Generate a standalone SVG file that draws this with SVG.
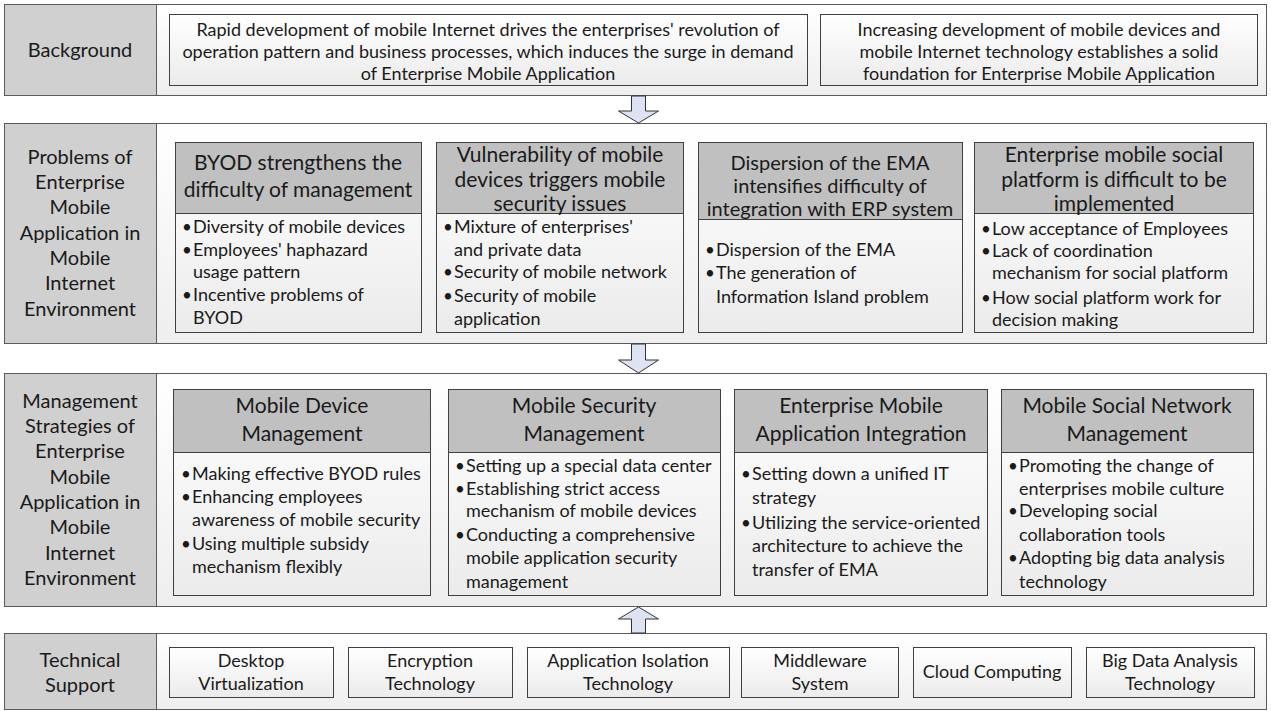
<svg xmlns="http://www.w3.org/2000/svg" width="1271" height="711" viewBox="0 0 1271 711">
  <defs>
    <linearGradient id="bandGrad" x1="0" y1="0" x2="0" y2="1">
      <stop offset="0" stop-color="#ffffff"/>
      <stop offset="1" stop-color="#eeeeee"/>
    </linearGradient>
    <linearGradient id="boxGrad" x1="0" y1="0" x2="0" y2="1">
      <stop offset="0" stop-color="#ffffff"/>
      <stop offset="1" stop-color="#ebebeb"/>
    </linearGradient>
    <style>
      .band{fill:url(#bandGrad);stroke:#5a5a5a;stroke-width:1}
      .lab{fill:#d0d0d0;stroke:#5a5a5a;stroke-width:1}
      .hdr{fill:#c0c0c0;stroke:#404040;stroke-width:1}
      .body{fill:url(#boxGrad);stroke:#404040;stroke-width:1}
      .arrow{fill:#dde3f2;stroke:#333333;stroke-width:1}
      text{font-family:Lato,"Liberation Sans",sans-serif;fill:#1a1a1a}
      .c{text-anchor:middle}
      .lbl{font-size:20px}
      .ttl{font-size:21px}
      .ttl-s{font-size:20px}
      .bl{font-size:18px}
      .dot{font-size:17px}
      .top{font-size:18px}
    </style>
  </defs>

  <!-- Background band -->
  <g id="background">
    <rect class="band" x="4.5" y="4.5" width="1262" height="91"/>
    <rect class="lab" x="4.5" y="4.5" width="152" height="91"/>
    <text class="lbl c" x="80" y="57">Background</text>
  </g>
  <g id="bg-demand">
    <rect class="body" x="169.5" y="14.5" width="638" height="71"/>
    <text class="top c" x="488" y="36">Rapid development of mobile Internet drives the enterprises' revolution of</text>
    <text class="top c" x="488" y="58">operation pattern and business processes, which induces the surge in demand</text>
    <text class="top c" x="488" y="80">of Enterprise Mobile Application</text>
  </g>
  <g id="bg-foundation">
    <rect class="body" x="820.5" y="14.5" width="437" height="71"/>
    <text class="top c" x="1039" y="36">Increasing development of mobile devices and</text>
    <text class="top c" x="1039" y="58">mobile Internet technology establishes a solid</text>
    <text class="top c" x="1039" y="80">foundation for Enterprise Mobile Application</text>
  </g>

  <!-- Problems band -->
  <g id="problems">
    <rect class="band" x="4.5" y="123.5" width="1262" height="220"/>
    <rect class="lab" x="4.5" y="123.5" width="152" height="220"/>
    <text class="lbl c" x="80" y="164">Problems of</text>
    <text class="lbl c" x="80" y="189">Enterprise</text>
    <text class="lbl c" x="80" y="214">Mobile</text>
    <text class="lbl c" x="80" y="240">Application in</text>
    <text class="lbl c" x="80" y="265">Mobile</text>
    <text class="lbl c" x="80" y="290">Internet</text>
    <text class="lbl c" x="80" y="316">Environment</text>
  </g>
  <g id="p-byod">
    <rect class="body" x="175.5" y="142.5" width="246" height="190"/>
    <rect class="hdr" x="175.5" y="142.5" width="246" height="71"/>
    <text class="ttl c" x="298" y="170">BYOD strengthens the</text>
    <text class="ttl c" x="298" y="197">difficulty of management</text>
    <text class="dot" x="182" y="233">•</text><text class="bl" x="193" y="233">Diversity of mobile devices</text>
    <text class="dot" x="182" y="256">•</text><text class="bl" x="193" y="256">Employees' haphazard</text>
    <text class="bl" x="193" y="278">usage pattern</text>
    <text class="dot" x="182" y="301">•</text><text class="bl" x="193" y="301">Incentive problems of</text>
    <text class="bl" x="193" y="324">BYOD</text>
  </g>
  <g id="p-security">
    <rect class="body" x="436.5" y="142.5" width="247" height="190"/>
    <rect class="hdr" x="436.5" y="142.5" width="247" height="71"/>
    <text class="ttl c" x="560" y="162">Vulnerability of mobile</text>
    <text class="ttl c" x="560" y="187">devices triggers mobile</text>
    <text class="ttl c" x="560" y="211">security issues</text>
    <text class="dot" x="443" y="233">•</text><text class="bl" x="454" y="233">Mixture of enterprises'</text>
    <text class="bl" x="454" y="256">and private data</text>
    <text class="dot" x="443" y="278">•</text><text class="bl" x="454" y="278">Security of mobile network</text>
    <text class="dot" x="443" y="302">•</text><text class="bl" x="454" y="302">Security of mobile</text>
    <text class="bl" x="454" y="325">application</text>
  </g>
  <g id="p-integration">
    <rect class="body" x="698.5" y="142.5" width="264" height="190"/>
    <rect class="hdr" x="698.5" y="142.5" width="264" height="77"/>
    <text class="ttl-s c" x="830" y="170">Dispersion of the EMA</text>
    <text class="ttl-s c" x="830" y="193">intensifies difficulty of</text>
    <text class="ttl-s c" x="830" y="216">integration with ERP system</text>
    <text class="dot" x="705" y="256">•</text><text class="bl" x="716" y="256">Dispersion of the EMA</text>
    <text class="dot" x="705" y="279">•</text><text class="bl" x="716" y="279">The generation of</text>
    <text class="bl" x="716" y="303">Information Island problem</text>
  </g>
  <g id="p-social">
    <rect class="body" x="974.5" y="142.5" width="279" height="190"/>
    <rect class="hdr" x="974.5" y="142.5" width="279" height="71"/>
    <text class="ttl c" x="1114" y="162">Enterprise mobile social</text>
    <text class="ttl c" x="1114" y="187">platform is difficult to be</text>
    <text class="ttl c" x="1114" y="211">implemented</text>
    <text class="dot" x="981" y="235">•</text><text class="bl" x="992" y="235">Low acceptance  of Employees</text>
    <text class="dot" x="981" y="257">•</text><text class="bl" x="992" y="257">Lack of coordination</text>
    <text class="bl" x="992" y="279">mechanism for social  platform</text>
    <text class="dot" x="981" y="304">•</text><text class="bl" x="992" y="304">How social platform work for</text>
    <text class="bl" x="992" y="326">decision making</text>
  </g>

  <!-- Strategies band -->
  <g id="strategies">
    <rect class="band" x="4.5" y="373.5" width="1262" height="233"/>
    <rect class="lab" x="4.5" y="373.5" width="152" height="233"/>
    <text class="lbl c" x="80" y="408">Management</text>
    <text class="lbl c" x="80" y="433">Strategies of</text>
    <text class="lbl c" x="80" y="458">Enterprise</text>
    <text class="lbl c" x="80" y="484">Mobile</text>
    <text class="lbl c" x="80" y="509">Application in</text>
    <text class="lbl c" x="80" y="534">Mobile</text>
    <text class="lbl c" x="80" y="560">Internet</text>
    <text class="lbl c" x="80" y="585">Environment</text>
  </g>
  <g id="s-device">
    <rect class="body" x="173.5" y="389.5" width="257" height="206"/>
    <rect class="hdr" x="173.5" y="389.5" width="257" height="63"/>
    <text class="ttl c" x="302" y="413">Mobile Device</text>
    <text class="ttl c" x="302" y="441">Management</text>
    <text class="dot" x="181" y="480">•</text><text class="bl" x="192" y="480">Making effective BYOD rules</text>
    <text class="dot" x="181" y="503">•</text><text class="bl" x="192" y="503">Enhancing employees</text>
    <text class="bl" x="192" y="526">awareness of mobile security</text>
    <text class="dot" x="181" y="550">•</text><text class="bl" x="192" y="550">Using multiple subsidy</text>
    <text class="bl" x="192" y="573">mechanism flexibly</text>
  </g>
  <g id="s-security">
    <rect class="body" x="448.5" y="389.5" width="272" height="206"/>
    <rect class="hdr" x="448.5" y="389.5" width="272" height="63"/>
    <text class="ttl c" x="584" y="413">Mobile Security</text>
    <text class="ttl c" x="584" y="441">Management</text>
    <text class="dot" x="455" y="472">•</text><text class="bl" x="466" y="472">Setting up a special data center</text>
    <text class="dot" x="455" y="495">•</text><text class="bl" x="466" y="495">Establishing strict access</text>
    <text class="bl" x="466" y="517">mechanism of mobile devices</text>
    <text class="dot" x="455" y="541">•</text><text class="bl" x="466" y="541">Conducting a comprehensive</text>
    <text class="bl" x="466" y="564">mobile application security</text>
    <text class="bl" x="466" y="588">management</text>
  </g>
  <g id="s-integration">
    <rect class="body" x="734.5" y="389.5" width="253" height="206"/>
    <rect class="hdr" x="734.5" y="389.5" width="253" height="63"/>
    <text class="ttl c" x="861" y="413">Enterprise Mobile</text>
    <text class="ttl c" x="861" y="441">Application Integration</text>
    <text class="dot" x="741" y="480">•</text><text class="bl" x="752" y="480">Setting down a unified IT</text>
    <text class="bl" x="752" y="504">strategy</text>
    <text class="dot" x="741" y="529">•</text><text class="bl" x="752" y="529">Utilizing the service-oriented</text>
    <text class="bl" x="752" y="552">architecture to achieve the</text>
    <text class="bl" x="752" y="576">transfer of EMA</text>
  </g>
  <g id="s-social">
    <rect class="body" x="1001.5" y="389.5" width="252" height="206"/>
    <rect class="hdr" x="1001.5" y="389.5" width="252" height="63"/>
    <text class="ttl c" x="1127" y="413">Mobile Social Network</text>
    <text class="ttl c" x="1127" y="441">Management</text>
    <text class="dot" x="1008" y="472">•</text><text class="bl" x="1019" y="472">Promoting the change of</text>
    <text class="bl" x="1019" y="495">enterprises mobile culture</text>
    <text class="dot" x="1008" y="517">•</text><text class="bl" x="1019" y="517">Developing social</text>
    <text class="bl" x="1019" y="541">collaboration tools</text>
    <text class="dot" x="1008" y="564">•</text><text class="bl" x="1019" y="564">Adopting big data analysis</text>
    <text class="bl" x="1019" y="588">technology</text>
  </g>

  <!-- Technical support band -->
  <g id="technical">
    <rect class="band" x="4.5" y="633.5" width="1262" height="76"/>
    <rect class="lab" x="4.5" y="633.5" width="152" height="76"/>
    <text class="lbl c" x="80" y="667">Technical</text>
    <text class="lbl c" x="80" y="692">Support</text>
  </g>
  <g id="t-desktop">
    <rect class="body" x="169.5" y="647.5" width="164" height="50"/>
    <text class="bl c" x="251" y="667">Desktop</text>
    <text class="bl c" x="251" y="690">Virtualization</text>
  </g>
  <g id="t-encryption">
    <rect class="body" x="348.5" y="647.5" width="164" height="50"/>
    <text class="bl c" x="430" y="667">Encryption</text>
    <text class="bl c" x="430" y="690">Technology</text>
  </g>
  <g id="t-isolation">
    <rect class="body" x="527.5" y="647.5" width="202" height="50"/>
    <text class="bl c" x="628" y="667">Application Isolation</text>
    <text class="bl c" x="628" y="690">Technology</text>
  </g>
  <g id="t-middleware">
    <rect class="body" x="741.5" y="647.5" width="157" height="50"/>
    <text class="bl c" x="820" y="667">Middleware</text>
    <text class="bl c" x="820" y="690">System</text>
  </g>
  <g id="t-cloud">
    <rect class="body" x="913.5" y="647.5" width="158" height="50"/>
    <text class="bl c" x="992" y="678">Cloud Computing</text>
  </g>
  <g id="t-bigdata">
    <rect class="body" x="1086.5" y="647.5" width="168" height="50"/>
    <text class="bl c" x="1170" y="667">Big Data Analysis</text>
    <text class="bl c" x="1170" y="690">Technology</text>
  </g>

  <!-- Connectors: block arrows between bands -->
  <g id="connectors">
    <polygon class="arrow" points="631.5,96 645.5,96 645.5,111 658.5,111 638.5,123 618.5,111 631.5,111"/>
    <polygon class="arrow" points="631.5,344 645.5,344 645.5,360 658.5,360 638.5,373 618.5,360 631.5,360"/>
    <polygon class="arrow" points="631.5,633 645.5,633 645.5,619 658.5,619 638.5,607 618.5,619 631.5,619"/>
  </g>
</svg>
